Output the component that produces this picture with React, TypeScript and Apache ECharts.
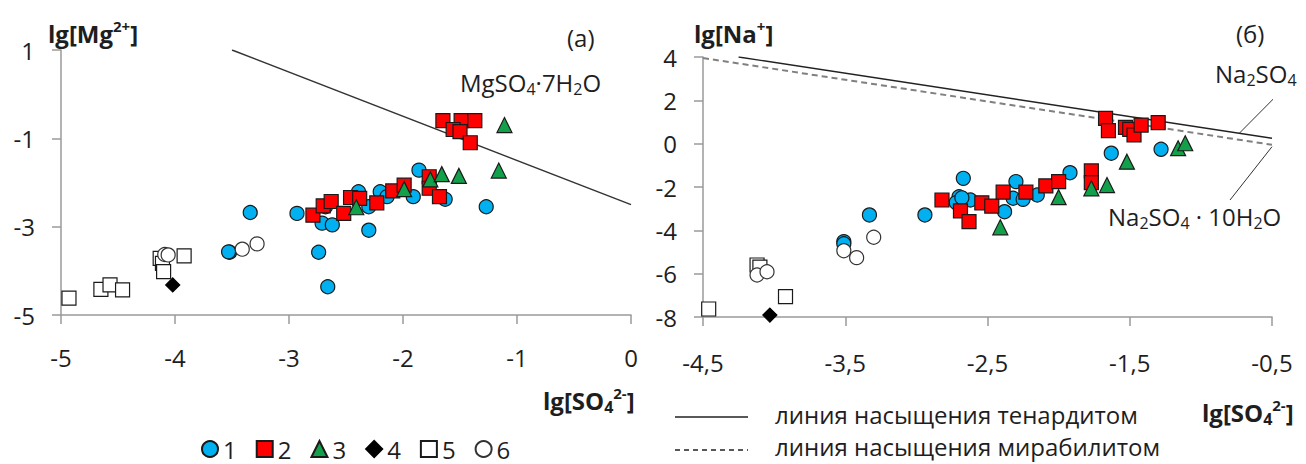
import React, { useEffect, useRef } from "react";
import * as echarts from "echarts";

// ---- Data (a): lg[SO4 2-] vs lg[Mg 2+]
const blueA = [[-3.34,-2.68],[-2.93,-2.70],[-3.52,-3.58],[-3.53,-3.57],[-2.74,-3.58],[-2.66,-4.36],[-2.71,-2.92],[-2.62,-2.96],[-2.68,-2.55],[-2.30,-3.08],[-2.39,-2.21],[-2.30,-2.55],[-2.20,-2.21],[-2.14,-2.32],[-1.91,-2.32],[-1.86,-1.72],[-1.63,-2.38],[-1.27,-2.55]];
const redA = [[-2.79,-2.74],[-2.70,-2.53],[-2.63,-2.43],[-2.52,-2.70],[-2.46,-2.34],[-2.38,-2.36],[-2.23,-2.46],[-2.09,-2.19],[-1.99,-2.06],[-1.77,-1.87],[-1.77,-2.13],[-1.68,-2.32],[-1.65,-0.60],[-1.49,-0.60],[-1.37,-0.60],[-1.56,-0.80],[-1.50,-0.85],[-1.41,-1.10]];
const greenA = [[-2.41,-2.56],[-1.99,-2.15],[-1.76,-1.93],[-1.66,-1.81],[-1.51,-1.85],[-1.16,-1.73],[-1.11,-0.70]];
const blackA = [[-4.02,-4.32]];
const openSqA = [[-4.93,-4.62],[-4.65,-4.42],[-4.57,-4.32],[-4.46,-4.43],[-4.13,-3.72],[-4.11,-3.83],[-4.10,-4.02],[-3.92,-3.66]];
const openCircA = [[-4.09,-3.63],[-4.06,-3.64],[-3.41,-3.51],[-3.28,-3.39]];
const mgLine = [[-3.5, 1.0],[0, -2.5]];

// ---- Data (б): lg[SO4 2-] vs lg[Na+]
const blueB = [[-3.51,-4.52],[-3.51,-4.62],[-3.33,-3.29],[-2.94,-3.29],[-2.67,-1.60],[-2.70,-2.45],[-2.72,-2.72],[-2.62,-2.60],[-2.68,-2.50],[-2.38,-3.14],[-2.30,-1.75],[-2.32,-2.52],[-2.25,-2.57],[-2.15,-2.37],[-1.92,-1.34],[-1.63,-0.44],[-1.28,-0.26]];
const redB = [[-2.82,-2.60],[-2.69,-3.10],[-2.63,-3.60],[-2.54,-2.73],[-2.47,-2.88],[-2.39,-2.24],[-2.23,-2.24],[-2.09,-1.95],[-2.00,-1.75],[-1.77,-1.26],[-1.77,-1.80],[-1.67,1.17],[-1.65,0.60],[-1.53,0.75],[-1.50,0.66],[-1.47,0.40],[-1.42,0.86],[-1.30,0.97]];
const greenB = [[-2.41,-3.86],[-2.00,-2.47],[-1.77,-2.06],[-1.66,-1.91],[-1.52,-0.83],[-1.16,-0.21],[-1.11,0.02]];
const blackB = [[-4.03,-7.91]];
const openSqB = [[-4.46,-7.63],[-3.92,-7.06],[-4.12,-5.60],[-4.10,-5.70]];
const openCircB = [[-4.12,-6.06],[-4.05,-5.91],[-3.51,-4.94],[-3.42,-5.26],[-3.30,-4.32]];
const thenarditeLine = [[-4.25, 4.0],[-0.5, 0.25]];
const mirabiliteLine = [[-4.5, 3.95],[-0.5, -0.05]];
const leaderNa2SO4 = [[-0.47, 2.2],[-0.73, 0.48]];
const leaderMirab = [[-0.50, -0.14],[-0.795, -2.6]];

const legendNames = ["1", "2", "3", "4", "5", "6"];
const xTicksA = [-5, -4, -3, -2, -1, 0];
const yTicksA = [1, -1, -3, -5];
const xTicksB = [-4.5, -3.5, -2.5, -1.5, -0.5];
const yTicksB = [4, 2, 0, -2, -4, -6, -8];

const FONT = "'Open Sans', Lato, sans-serif";
const TXT = "#1e1e1e";

export default function App() {
  const ref = useRef<HTMLDivElement>(null);
  useEffect(() => {
    document.body.style.margin = "0";
    const chart = echarts.init(ref.current!, null, { renderer: "svg" });

    const styles = [
      { symbol: "circle", size: 14, color: "#00b0f0", border: "#1a1a1a" },
      { symbol: "rect", size: 14, color: "#ff0000", border: "#1a1a1a" },
      { symbol: "triangle", size: 15, color: "#12a04a", border: "#1a1a1a" },
      { symbol: "diamond", size: 14, color: "#000000", border: "#000000" },
      { symbol: "rect", size: 14, color: "#ffffff", border: "#1a1a1a" },
      { symbol: "circle", size: 14, color: "#ffffff", border: "#333333" },
    ];
    const dataA = [blueA, redA, greenA, blackA, openSqA, openCircA];
    const dataB = [blueB, redB, greenB, blackB, openSqB, openCircB];

    const scatter = (i: number, data: number[][], xi: number, yi: number) => ({
      type: "scatter",
      name: legendNames[i],
      xAxisIndex: xi,
      yAxisIndex: yi,
      data,
      symbol: styles[i].symbol,
      symbolSize: styles[i].size,
      itemStyle: { color: styles[i].color, borderColor: styles[i].border, borderWidth: 1.2, opacity: 1 },
      z: 3 + i,
    });
    const line = (data: number[][], xi: number, yi: number, ls: any, clip = true) => ({
      type: "line",
      xAxisIndex: xi,
      yAxisIndex: yi,
      data,
      symbol: "none",
      silent: true,
      clip,
      lineStyle: ls,
      z: 2,
    });

    const axisLabel = (margin: number, fmt?: (v: number) => string) => ({
      fontSize: 24,
      fontFamily: FONT,
      color: TXT,
      margin,
      formatter: fmt,
    });
    const axisLine = { show: true, onZero: false, lineStyle: { color: "#9a9a9a", width: 1.5 } };
    const axisTick = { show: true, inside: false, length: 9, lineStyle: { color: "#9a9a9a", width: 1.5 } };
    const comma = (v: number) => String(Math.round(v * 10) / 10).replace(".", ",");

    const series: any[] = [];
    series.push(line(mgLine, 0, 0, { color: "#333", width: 1.4 }));
    series.push(line(thenarditeLine, 1, 2, { color: "#222", width: 1.4 }));
    series.push(line(mirabiliteLine, 1, 2, { color: "#808080", width: 2, type: [6, 4] }));
    series.push(line(leaderNa2SO4, 1, 2, { color: "#333", width: 1 }, false));
    series.push(line(leaderMirab, 1, 2, { color: "#333", width: 1 }, false));
    dataA.forEach((d, i) => series.push(scatter(i, d, 0, 0)));
    dataB.forEach((d, i) => series.push(scatter(i, d, 1, 2)));

    const sub = { fontSize: 16, fontFamily: FONT, color: TXT, verticalAlign: "bottom", lineHeight: 18 };
    const sup = { fontSize: 15, fontFamily: FONT, color: TXT, verticalAlign: "top", lineHeight: 16 };
    const main = { fontSize: 24, fontFamily: FONT, color: TXT, lineHeight: 30 };
    const subB = { ...sub, fontWeight: "bold" };
    const supB = { ...sup, fontWeight: "bold" };
    const mainB = { ...main, fontWeight: "bold" };
    const rich = { m: main, s: sub, p: sup, mb: mainB, sb: subB, pb: supB };

    const txt = (text: string, x: number, y: number, align = "left") => ({
      type: "text",
      x,
      y,
      silent: true,
      style: { text, rich, align, verticalAlign: "middle", fill: TXT, font: `24px ${FONT}` },
    });

    const graphic = [
      txt("{mb|lg[Mg}{pb|2+}{mb|]}", 48, 33),
      txt("{mb|lg[SO}{sb|4}{pb|2-}{mb|]}", 543, 400),
      txt("{mb|lg[Na}{pb|+}{mb|]}", 694, 33),
      txt("{mb|lg[SO}{sb|4}{pb|2-}{mb|]}", 1202, 412),
      txt("{m|(а)}", 567, 37),
      txt("{m|(б)}", 1236, 33),
      txt("{m|MgSO}{s|4}{m|·7H}{s|2}{m|O}", 460, 82),
      txt("{m|Na}{s|2}{m|SO}{s|4}", 1215, 73),
      txt("{m|Na}{s|2}{m|SO}{s|4}{m| · 10H}{s|2}{m|O}", 1108, 216),
      { type: "line", silent: true, shape: { x1: 675, y1: 417, x2: 748, y2: 417 }, style: { stroke: "#222", lineWidth: 1.3 } },
      { type: "line", silent: true, shape: { x1: 675, y1: 450, x2: 748, y2: 450 }, style: { stroke: "#222", lineWidth: 1.3, lineDash: [5, 4] } },
      txt("{m|линия насыщения тенардитом}", 775, 414),
      txt("{m|линия насыщения мирабилитом}", 775, 446),
    ];

    chart.setOption({
      animation: false,
      backgroundColor: "#ffffff",
      textStyle: { fontFamily: FONT },
      grid: [
        { left: 61, top: 50, width: 570, height: 265 },
        { left: 703, top: 57, width: 569, height: 260 },
      ],
      xAxis: [
        {
          type: "value", gridIndex: 0, min: xTicksA[0], max: xTicksA[xTicksA.length - 1], interval: 1,
          position: "bottom", axisLine, axisTick, splitLine: { show: false },
          axisLabel: axisLabel(30),
        },
        { type: "value", gridIndex: 1, min: xTicksB[0], max: xTicksB[xTicksB.length - 1], show: false, position: "top" },
        {
          type: "value", gridIndex: 1, min: 0, max: xTicksB.length - 1, interval: 1, position: "bottom",
          axisLine, axisTick, splitLine: { show: false },
          axisLabel: axisLabel(33, (v: number) => comma(xTicksB[0] + v)),
        },
      ],
      yAxis: [
        { type: "value", gridIndex: 0, min: yTicksA[yTicksA.length - 1], max: yTicksA[0], show: false, position: "right" },
        {
          type: "value", gridIndex: 0, min: 0, max: (yTicksA[0] - yTicksA[yTicksA.length - 1]), interval: 2, position: "left",
          axisLine, axisTick, splitLine: { show: false },
          axisLabel: axisLabel(26, (v: number) => String(yTicksA[yTicksA.length - 1] + v)),
        },
        {
          type: "value", gridIndex: 1, min: yTicksB[yTicksB.length - 1], max: yTicksB[0], interval: 2, position: "left",
          axisLine, axisTick, splitLine: { show: false },
          axisLabel: axisLabel(26),
        },
      ],
      legend: {
        left: 196,
        top: 432,
        itemGap: 19,
        itemWidth: 16,
        itemHeight: 16,
        textStyle: { fontSize: 24, fontFamily: FONT, color: TXT },
        selectedMode: false,
        data: legendNames.map((n, i) => ({ name: n, icon: styles[i].symbol })),
      },
      graphic,
      series,
    });
    return () => chart.dispose();
  }, []);
  return <div ref={ref} style={{ width: 1306, height: 464 }} />;
}
